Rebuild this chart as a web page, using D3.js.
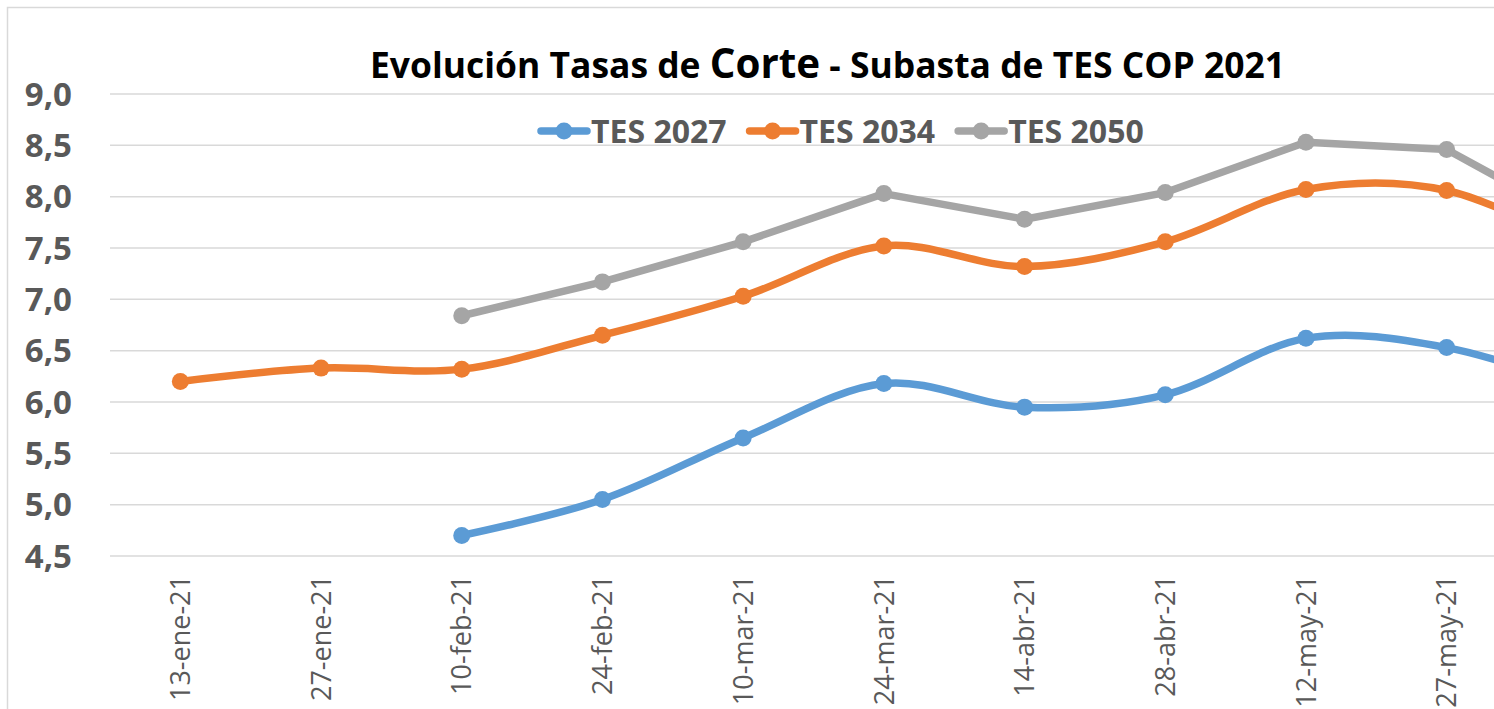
<!DOCTYPE html>
<html>
<head>
<meta charset="utf-8">
<script src="https://cdn.jsdelivr.net/npm/d3@7"></script>
<style>
  html, body { margin: 0; padding: 0; background: #fff; overflow: hidden; }
  svg { display: block; font-family: "Open Sans", "Noto Sans", sans-serif; }
</style>
</head>
<body>
<div id="chart"></div>
<script>
// fechas de subasta (la última queda fuera del recorte)
const categories = ["13-ene-21", "27-ene-21", "10-feb-21", "24-feb-21", "10-mar-21",
    "24-mar-21", "14-abr-21", "28-abr-21", "12-may-21", "27-may-21", "9-jun-21"];
const tes2027 = [null, null, 4.70, 5.05, 5.65, 6.18, 5.95, 6.07, 6.62, 6.53, 6.12];
const tes2034 = [6.20, 6.33, 6.32, 6.65, 7.03, 7.52, 7.32, 7.56, 8.07, 8.06, 7.48];
const tes2050 = [null, null, 6.84, 7.17, 7.56, 8.03, 7.78, 8.04, 8.53, 8.46, 7.71];
const yTicks = [4.5, 5.0, 5.5, 6.0, 6.5, 7.0, 7.5, 8.0, 8.5, 9.0];

const series = [
    { name: "TES 2027", values: tes2027, color: "#5B9BD5", smooth: true },
    { name: "TES 2034", values: tes2034, color: "#ED7D31", smooth: true },
    { name: "TES 2050", values: tes2050, color: "#A5A5A5", smooth: false }
];

const width = 1494, height = 709;
const svg = d3.select("#chart").append("svg")
    .attr("width", width)
    .attr("height", height);

// marco del gráfico
svg.append("rect")
    .attr("x", 7.5).attr("y", 7.5)
    .attr("width", 1600).attr("height", 800)
    .attr("fill", "none")
    .attr("stroke", "#d9d9d9")
    .attr("stroke-width", 1.5);

const x = d3.scaleBand()
    .domain(categories)
    .range([110, 110 + 140.7 * categories.length]);
const cx = d => x(d) + x.bandwidth() / 2;

const y = d3.scaleLinear()
    .domain([4.5, 9])
    .range([556, 94]);

// grid
svg.append("g")
    .selectAll("line")
    .data(yTicks)
    .enter().append("line")
    .attr("x1", 110).attr("x2", width + 10)
    .attr("y1", d => y(d)).attr("y2", d => y(d))
    .attr("stroke", "#d9d9d9")
    .attr("stroke-width", 1.5);

// eje y
svg.append("g")
    .selectAll("text")
    .data(yTicks)
    .enter().append("text")
    .attr("x", 72)
    .attr("y", d => y(d))
    .attr("dy", "0.35em")
    .attr("text-anchor", "end")
    .attr("fill", "#595959")
    .attr("font-size", 33)
    .attr("font-weight", "bold")
    .text(d => d3.format(".1f")(d).replace(".", ","));

// eje x (etiquetas verticales), solo las que caben en el recorte
svg.append("g")
    .selectAll("text")
    .data(categories.filter(c => cx(c) < width))
    .enter().append("text")
    .attr("transform", d => "translate(" + cx(d) + ",575) rotate(-90)")
    .attr("dy", "0.36em")
    .attr("text-anchor", "end")
    .attr("fill", "#595959")
    .attr("font-size", 27)
    .text(d => d);

// líneas
series.forEach(s => {
    const pts = categories.map((c, i) => ({ c: c, v: s.values[i] })).filter(p => p.v != null);
    const line = d3.line()
        .x(p => cx(p.c))
        .y(p => y(p.v))
        .curve(s.smooth ? d3.curveCardinal.tension(0) : d3.curveLinear);

    svg.append("path")
        .datum(pts)
        .attr("d", line)
        .attr("fill", "none")
        .attr("stroke", s.color)
        .attr("stroke-width", 7.5)
        .attr("stroke-linejoin", "round")
        .attr("stroke-linecap", "round");

    svg.append("g")
        .selectAll("circle")
        .data(pts)
        .enter().append("circle")
        .attr("cx", p => cx(p.c))
        .attr("cy", p => y(p.v))
        .attr("r", 8.5)
        .attr("fill", s.color);
});

// título
const title = svg.append("text")
    .attr("x", 370)
    .attr("y", 78)
    .attr("font-weight", "bold")
    .attr("fill", "#000")
    .attr("font-size", 36)
    .attr("textLength", 915)
    .attr("lengthAdjust", "spacingAndGlyphs");
title.append("tspan").text("Evolución Tasas de ");
title.append("tspan").attr("font-size", 41).text("Corte");
title.append("tspan").text(" - Subasta de TES COP 2021");

// leyenda
const legend = svg.append("g");
let lx = 538;
series.forEach(s => {
    const g = legend.append("g");
    g.append("line")
        .attr("x1", lx + 3).attr("x2", lx + 49)
        .attr("y1", 131).attr("y2", 131)
        .attr("stroke", s.color)
        .attr("stroke-width", 7.5)
        .attr("stroke-linecap", "round");
    g.append("circle")
        .attr("cx", lx + 26).attr("cy", 131)
        .attr("r", 8.5)
        .attr("fill", s.color);
    const t = g.append("text")
        .attr("x", lx + 53)
        .attr("y", 143)
        .attr("font-size", 32)
        .attr("font-weight", "bold")
        .attr("fill", "#595959")
        .text(s.name);
    lx += 53 + t.node().getComputedTextLength() + 20;
});
</script>
</body>
</html>
